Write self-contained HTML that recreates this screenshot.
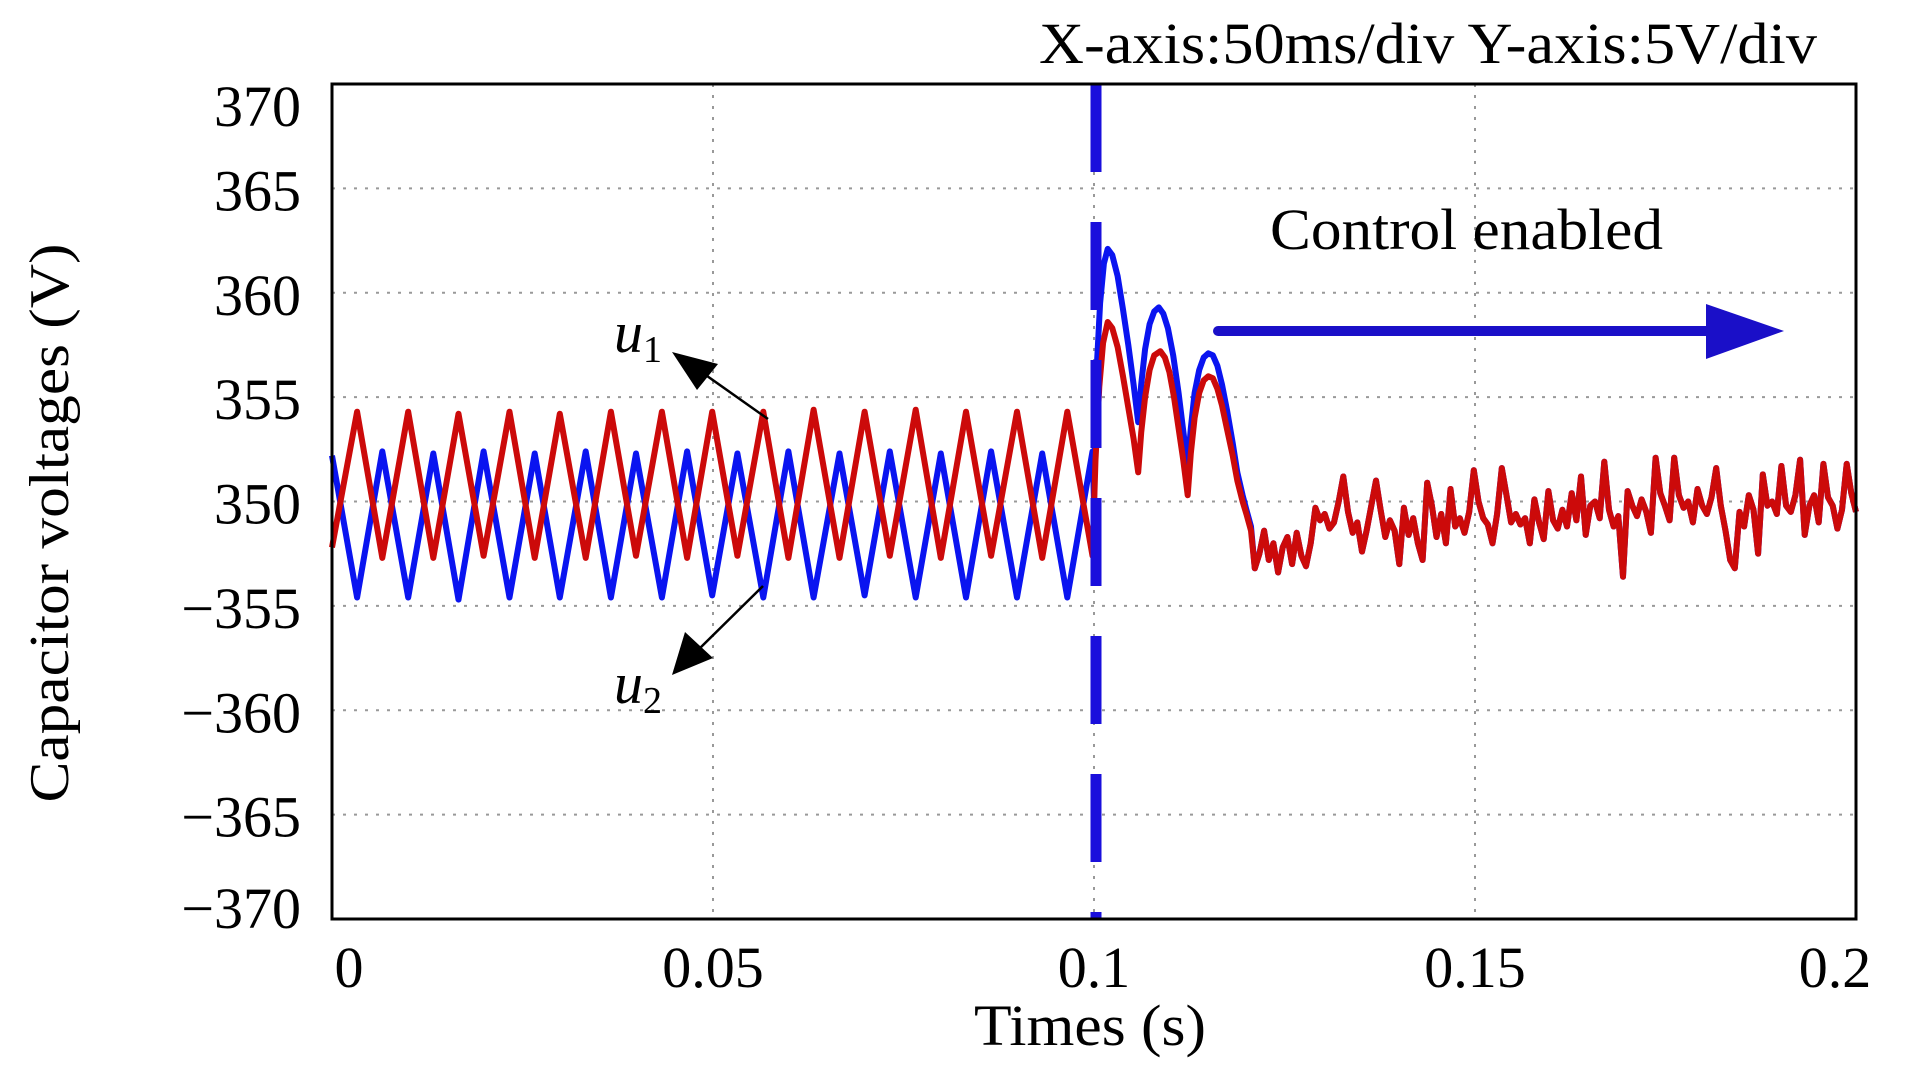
<!DOCTYPE html>
<html><head><meta charset="utf-8"><style>
html,body{margin:0;padding:0;background:#fff;}
svg{display:block;}
text{font-family:"Liberation Serif",serif;fill:#000;}
</style></head><body>
<svg id="chart" width="1906" height="1079" viewBox="0 0 1906 1079" xmlns="http://www.w3.org/2000/svg">
<rect x="0" y="0" width="1906" height="1079" fill="#fff"/>
<g id="grid"></g>
<g id="series"></g>
<line x1="1096" y1="84" x2="1096" y2="919" stroke="#1a0fdc" stroke-width="11" stroke-dasharray="88 50"/>
<rect x="332" y="84" width="1524" height="835" fill="none" stroke="#000" stroke-width="3"/>
<g id="yticks"></g>
<g id="xticks"></g>
<text x="1039" y="63" font-size="58" textLength="778" lengthAdjust="spacingAndGlyphs">X-axis:50ms/div Y-axis:5V/div</text>
<text x="1270" y="249" font-size="58" textLength="393" lengthAdjust="spacingAndGlyphs">Control enabled</text>
<g>
<line x1="1218" y1="331" x2="1715" y2="331" stroke="#1a0fc8" stroke-width="10" stroke-linecap="round"/>
<polygon points="1706,304 1784,331 1706,359" fill="#1a0fc8"/>
</g>
<text transform="translate(68,523) rotate(-90)" text-anchor="middle" font-size="56" textLength="559" lengthAdjust="spacingAndGlyphs">Capacitor voltages (V)</text>
<text x="1090" y="1045" text-anchor="middle" font-size="58" textLength="232" lengthAdjust="spacingAndGlyphs">Times (s)</text>
<g>
<text x="614" y="352" font-size="58" font-style="italic">u<tspan font-size="38" font-style="normal" dy="10">1</tspan></text>
<line x1="768" y1="419" x2="700" y2="371" stroke="#000" stroke-width="2.5"/>
<polygon points="672,352 718,364 697,390" fill="#000"/>
</g>
<g>
<text x="614" y="703" font-size="58" font-style="italic">u<tspan font-size="38" font-style="normal" dy="10">2</tspan></text>
<line x1="763" y1="586" x2="696" y2="652" stroke="#000" stroke-width="2.5"/>
<polygon points="672,675 685,632 713,658" fill="#000"/>
</g>
</svg>
<script>
const yTickVals=[370,365,360,355,350,345,340,335,330];
const yTickLabels=["370","365","360","355","350","\u2212355","\u2212360","\u2212365","\u2212370"];
const xTickVals=[0,0.05,0.1,0.15,0.2];
const xTickLabels=["0","0.05","0.1","0.15","0.2"];
const u1Times=[0,0.0033,0.0066,0.0100,0.0133,0.0166,0.0199,0.0233,0.0266,0.0299,0.0333,0.0366,0.0399,0.0433,0.0466,0.0499,0.0532,0.0566,0.0599,0.0632,0.0666,0.0699,0.0732,0.0766,0.0799,0.0832,0.0865,0.0899,0.0932,0.0965,0.0998,
0.1002,0.1007,0.1012,0.1018,0.1024,0.1031,0.1038,0.1045,0.1052,0.1058,0.1062,0.1067,0.1073,0.1079,0.1087,0.1093,0.1099,0.1105,0.1111,0.1117,0.1123,0.1127,0.1132,0.1138,0.1144,0.1150,0.1156,0.1162,0.1168,0.1175,0.1182,0.1188,0.1195,0.1200,0.1206];
const u1Values=[347.8,354.3,347.3,354.3,347.3,354.2,347.4,354.3,347.3,354.2,347.3,354.3,347.4,354.3,347.3,354.3,347.4,354.3,347.3,354.4,347.3,354.3,347.4,354.4,347.3,354.3,347.4,354.3,347.3,354.3,347.4,
352,355.5,357.6,358.6,358.3,357.4,356.0,354.5,353.0,351.4,353.3,355.0,356.3,357.0,357.2,356.9,356.2,355.0,353.5,352.0,350.3,352.3,354.0,355.2,355.8,356.0,355.9,355.4,354.6,353.4,352.2,351.0,350.0,349.4,348.6];
const u2Times=[0,0.0033,0.0066,0.0100,0.0133,0.0166,0.0199,0.0233,0.0266,0.0299,0.0333,0.0366,0.0399,0.0433,0.0466,0.0499,0.0532,0.0566,0.0599,0.0632,0.0666,0.0699,0.0732,0.0766,0.0799,0.0832,0.0865,0.0899,0.0932,0.0965,0.0998,
0.1000,0.1003,0.1008,0.1013,0.1018,0.1024,0.1031,0.1038,0.1045,0.1052,0.1058,0.1062,0.1067,0.1073,0.1079,0.1085,0.1091,0.1097,0.1104,0.1111,0.1117,0.1123,0.1127,0.1132,0.1138,0.1144,0.1150,0.1156,0.1162,0.1168,0.1175,0.1182,0.1188,0.1195,0.1200,0.1206];
const u2Values=[352.2,345.4,352.4,345.4,352.3,345.3,352.4,345.4,352.3,345.4,352.4,345.4,352.3,345.4,352.4,345.5,352.3,345.4,352.4,345.4,352.3,345.5,352.4,345.4,352.3,345.4,352.4,345.4,352.3,345.4,352.4,
350,356,359.5,361.4,362.1,361.8,360.8,359.2,357.5,355.6,353.8,355.6,357.3,358.5,359.1,359.3,359.0,358.3,357.0,355.2,353.4,351.7,353.5,355.2,356.3,356.9,357.1,357.0,356.5,355.6,354.3,352.8,351.4,350.3,349.6,348.8];
const noiseStart=0.1211, noiseEnd=0.2;
const noiseValues=[346.8,347.5,348.6,347.2,348.0,346.6,347.8,348.3,347.0,348.5,347.4,346.9,348.0,349.7,349.1,349.4,348.7,349.0,350.0,351.2,349.5,348.5,349.0,347.6,348.6,349.8,351.0,349.6,348.3,349.1,348.6,347.0,349.7,348.4,349.2,348.0,347.2,350.9,349.8,348.3,349.4,348.0,350.6,348.8,349.2,348.5,349.5,351.5,350.0,349.2,348.9,348.0,349.4,351.6,350.3,349.0,349.4,348.9,349.2,348.0,350.1,349.0,348.2,350.5,349.1,348.7,349.6,348.8,350.4,349.1,351.2,348.4,349.8,350.0,349.2,351.9,349.6,348.8,349.3,346.4,350.5,349.8,349.3,350.1,349.5,348.5,352.1,350.4,349.8,349.1,352.1,350.3,349.7,350.0,349.0,350.6,349.8,349.4,350.2,351.6,349.8,348.6,347.2,346.8,349.5,348.8,350.3,349.6,347.5,351.3,349.8,350.0,349.4,351.7,349.8,349.5,350.3,352.0,348.4,349.8,350.3,349.0,351.8,350.2,349.8,348.7,349.6,351.8,350.4,349.5];

const X0=332,X1=1856,Y0=919,Y1=84;
function xs(t){return X0+(t-0)/(0.2-0)*(X1-X0);}
function ys(v){return Y0-(v-330)/(370-330)*(Y0-Y1);}
const NS='http://www.w3.org/2000/svg';
function mk(tag,attrs,parent){const e=document.createElementNS(NS,tag);for(const k in attrs)e.setAttribute(k,attrs[k]);parent.appendChild(e);return e;}

const grid=document.getElementById('grid');
yTickVals.forEach((v,i)=>{
  if(i===0||i===yTickVals.length-1)return;
  const l=mk('line',{x1:X0,x2:X1,y1:ys(v),y2:ys(v),stroke:'#999','stroke-width':2,'stroke-dasharray':'3 8'},grid);
  
  
});
xTickVals.forEach((t,i)=>{
  if(i===0||i===xTickVals.length-1)return;
  const l=mk('line',{x1:xs(t),x2:xs(t),y1:Y1,y2:Y0,stroke:'#999','stroke-width':2,'stroke-dasharray':'3 8'},grid);
  
  
});
const yt=document.getElementById('yticks');
yTickVals.forEach((v,i)=>{
  let y=ys(v)+22;
  if(i===0)y=126;
  if(i===yTickVals.length-1)y=928;
  const t=mk('text',{x:301,y:y,'text-anchor':'end','font-size':58},yt);
  t.textContent=yTickLabels[i];
  
  
});
const xt=document.getElementById('xticks');
xTickVals.forEach((v,i)=>{
  let x=xs(v);
  if(i===0)x+=17;
  if(i===xTickVals.length-1)x-=21;
  const t=mk('text',{x:x,y:987,'text-anchor':'middle','font-size':58},xt);
  t.textContent=xTickLabels[i];
  
  
});
function noiseTime(i){return noiseStart+(noiseEnd-noiseStart)*i/(noiseValues.length-1);}
function buildPath(times,vals){
  let d='';
  times.forEach((t,i)=>{d+=(i?'L':'M')+xs(t).toFixed(1)+','+ys(vals[i]).toFixed(1);});
  noiseValues.forEach((v,i)=>{d+='L'+xs(noiseTime(i)).toFixed(1)+','+ys(v).toFixed(1);});
  return d;
}
const sg=document.getElementById('series');
const p2=mk('path',{d:buildPath(u2Times,u2Values),fill:'none',stroke:'#0a14f0','stroke-width':6,'stroke-linejoin':'round'},sg);


const p1=mk('path',{d:buildPath(u1Times,u1Values),fill:'none',stroke:'#cc0a0a','stroke-width':6,'stroke-linejoin':'round'},sg);


</script>
</body></html>
